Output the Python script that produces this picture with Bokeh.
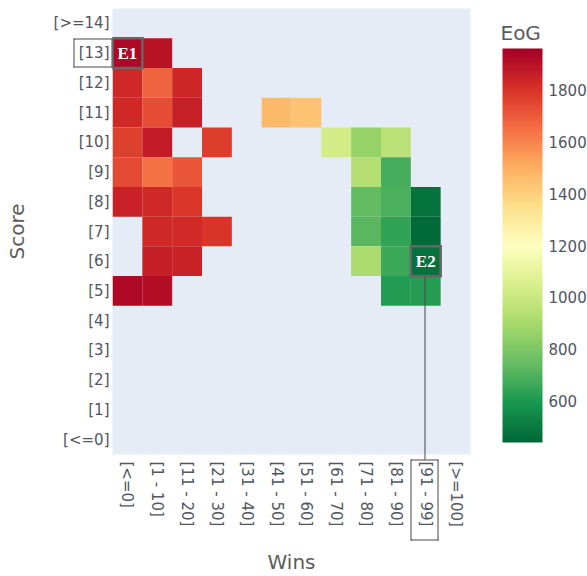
import math

from bokeh.core.properties import value
from bokeh.embed import file_html
from bokeh.models import (Arrow, ColorBar, ColumnDataSource, FixedTicker,
                          LinearColorMapper)
from bokeh.plotting import figure
from bokeh.resources import INLINE

# Axis categories
wins_bins = ["[<=0]", "[1 - 10]", "[11 - 20]", "[21 - 30]", "[31 - 40]",
             "[41 - 50]", "[51 - 60]", "[61 - 70]", "[71 - 80]", "[81 - 90]",
             "[91 - 99]", "[>=100]"]
score_bins = ["[<=0]", "[1]", "[2]", "[3]", "[4]", "[5]", "[6]", "[7]", "[8]",
              "[9]", "[10]", "[11]", "[12]", "[13]", "[>=14]"]

# Filled cells: wins bin, score bin, EoG
cell_wins = [
    "[<=0]", "[1 - 10]",
    "[<=0]", "[1 - 10]", "[11 - 20]",
    "[<=0]", "[1 - 10]", "[11 - 20]", "[41 - 50]", "[51 - 60]",
    "[<=0]", "[1 - 10]", "[21 - 30]", "[61 - 70]", "[71 - 80]", "[81 - 90]",
    "[<=0]", "[1 - 10]", "[11 - 20]", "[71 - 80]", "[81 - 90]",
    "[<=0]", "[1 - 10]", "[11 - 20]", "[71 - 80]", "[81 - 90]", "[91 - 99]",
    "[1 - 10]", "[11 - 20]", "[21 - 30]", "[71 - 80]", "[81 - 90]", "[91 - 99]",
    "[1 - 10]", "[11 - 20]", "[71 - 80]", "[81 - 90]", "[91 - 99]",
    "[<=0]", "[1 - 10]", "[81 - 90]", "[91 - 99]",
]
cell_scores = [
    "[13]", "[13]",
    "[12]", "[12]", "[12]",
    "[11]", "[11]", "[11]", "[11]", "[11]",
    "[10]", "[10]", "[10]", "[10]", "[10]", "[10]",
    "[9]", "[9]", "[9]", "[9]", "[9]",
    "[8]", "[8]", "[8]", "[8]", "[8]", "[8]",
    "[7]", "[7]", "[7]", "[7]", "[7]", "[7]",
    "[6]", "[6]", "[6]", "[6]", "[6]",
    "[5]", "[5]", "[5]", "[5]",
]
cell_eog = [
    1935, 1900,
    1830, 1680, 1840,
    1830, 1730, 1855, 1470, 1440,
    1765, 1870, 1775, 1030, 860, 960,
    1745, 1640, 1715, 940, 680,
    1850, 1830, 1790, 740, 690, 480,
    1830, 1825, 1795, 720, 640, 450,
    1860, 1850, 910, 660, 470,
    1925, 1915, 610, 615,
]

eog_low, eog_high = 440, 1960
eog_ticks = [600, 800, 1000, 1200, 1400, 1600, 1800]

# Highlighted cells
marks = [("E1", "[<=0]", "[13]"), ("E2", "[91 - 99]", "[6]")]

# Red-yellow-green scale, green for low EoG
stops = [(0, 104, 55), (26, 152, 80), (102, 189, 99), (166, 217, 106),
         (217, 239, 139), (255, 255, 191), (254, 224, 139), (253, 174, 97),
         (244, 109, 67), (215, 48, 39), (165, 0, 38)]


def build_palette(n=256):
    out = []
    for i in range(n):
        t = i / (n - 1) * (len(stops) - 1)
        k = min(int(t), len(stops) - 2)
        f = t - k
        a, b = stops[k], stops[k + 1]
        rgb = [round(a[j] + (b[j] - a[j]) * f) for j in range(3)]
        out.append("#%02x%02x%02x" % tuple(rgb))
    return out


xi = {c: i for i, c in enumerate(wins_bins)}
yi = {c: i for i, c in enumerate(score_bins)}

src = ColumnDataSource(dict(
    x=[xi[w] for w in cell_wins],
    y=[yi[s] for s in cell_scores],
    eog=cell_eog,
))

mapper = LinearColorMapper(palette=build_palette(), low=eog_low, high=eog_high)

frame_w, frame_h = 358, 446
cell_w = frame_w / len(wins_bins)
cell_h = frame_h / len(score_bins)

p = figure(
    frame_width=frame_w, frame_height=frame_h,
    x_range=(-0.5, len(wins_bins) - 0.5),
    y_range=(-0.5, len(score_bins) - 0.5),
    output_backend="svg", toolbar_location=None,
    min_border_left=112, min_border_top=8, min_border_bottom=122,
    min_border_right=117,
)
p.background_fill_color = "#e5ecf6"
p.border_fill_color = "white"
p.outline_line_color = None
p.grid.visible = False

p.rect(x="x", y="y", width=1, height=1, source=src,
       fill_color={"field": "eog", "transform": mapper},
       line_color=None)

tick_font = "DejaVu Sans"
tick_color = "#4f5661"
title_color = "#5c5c5c"

p.xaxis.ticker = FixedTicker(ticks=list(range(len(wins_bins))))
p.xaxis.major_label_overrides = {i: c for i, c in enumerate(wins_bins)}
p.xaxis.major_label_orientation = -math.pi / 2
p.yaxis.ticker = FixedTicker(ticks=list(range(len(score_bins))))
p.yaxis.major_label_overrides = {i: c for i, c in enumerate(score_bins)}

for ax in (p.xaxis[0], p.yaxis[0]):
    ax.axis_line_color = None
    ax.major_tick_line_color = None
    ax.minor_tick_line_color = None
    ax.major_tick_out = 0
    ax.major_tick_in = 0
    ax.major_label_text_font = tick_font
    ax.major_label_text_font_size = "15px"
    ax.major_label_text_color = tick_color
    ax.axis_label_text_font = tick_font
    ax.axis_label_text_font_size = "20px"
    ax.axis_label_text_font_style = "normal"
    ax.axis_label_text_color = title_color

p.xaxis.axis_label = "Wins"
p.yaxis.axis_label = "Score"
p.xaxis.major_label_standoff = 7
p.yaxis.major_label_standoff = 3
p.xaxis.axis_label_standoff = 20
p.yaxis.axis_label_standoff = 22

# Colour bar to the right of the heatmap
cbar = ColorBar(
    color_mapper=mapper, ticker=FixedTicker(ticks=eog_ticks),
    width=40, height=394, location=(390, 12),
    margin=0, padding=0,
    major_label_text_font=tick_font, major_label_text_font_size="15px",
    major_label_text_color=tick_color, label_standoff=6,
    major_tick_line_color=None, bar_line_color=None,
    background_fill_color=None, border_line_color=None,
)
p.add_layout(cbar)

# Its title: a horizontal bar is titled above itself, so an invisible one
# carries "EoG" over the scale
p.add_layout(ColorBar(
    color_mapper=mapper, orientation="horizontal",
    ticker=FixedTicker(ticks=[]), width=40, height=1, location=(388, 408),
    margin=0, padding=0, label_standoff=0, scale_alpha=0,
    title="EoG", title_text_font=tick_font, title_text_font_size="20px",
    title_text_font_style="normal", title_text_color=title_color,
    title_standoff=2,
    major_tick_line_color=None, minor_tick_line_color=None,
    major_label_text_font_size="1px", major_label_text_alpha=0,
    bar_line_color=None, background_fill_color=None, border_line_color=None,
))

box_color = "#666666"
strip_color = "#4a4a4a"


def frame_box(x0, x1, y0, y1, width):
    edges = [(x0, y0, x1, y0), (x1, y0, x1, y1),
             (x1, y1, x0, y1), (x0, y1, x0, y0)]
    for xs, ys, xe, ye in edges:
        p.add_layout(Arrow(end=None, x_start=xs, y_start=ys, x_end=xe,
                           y_end=ye, line_color=box_color, line_width=width,
                           line_cap="square"))


def margin_bar(left, bottom, w, h):
    """Solid grey strip in frame pixels (origin at the frame's bottom-left);
    a bare colour bar can sit in the margins around the plot area."""
    p.add_layout(ColorBar(
        color_mapper=LinearColorMapper(palette=[strip_color], low=0, high=1),
        ticker=FixedTicker(ticks=[]), width=max(1, round(w)),
        height=max(1, round(h)), location=(round(left), round(bottom)),
        margin=0, padding=0, label_standoff=0,
        major_tick_line_color=None, minor_tick_line_color=None,
        major_label_text_font_size="1px", major_label_text_alpha=0,
        bar_line_color=None, background_fill_color=None,
        border_line_color=None,
    ))


def margin_box(left, bottom, right, top):
    margin_bar(left, bottom, right - left, 1)
    margin_bar(left, top - 1, right - left, 1)
    margin_bar(left, bottom, 1, top - bottom)
    margin_bar(right - 1, bottom, 1, top - bottom)


# Frames around the highlighted cells, with the cell names
for name, w, s in marks:
    x0, y0 = xi[w], yi[s]
    p.text(x=[x0], y=[y0], text=[name], text_align="center",
           text_baseline="middle", text_color="white",
           text_font=value("Liberation Serif"), text_font_style="bold",
           text_font_size="17px")
    frame_box(x0 - 0.5, x0 + 0.5, y0 - 0.5, y0 + 0.5, 2.5)

# Frame around the [13] score label, left of the E1 cell
e1_row = yi["[13]"]
margin_box(-39, round(e1_row * cell_h), 0, round((e1_row + 1) * cell_h))

# Frame around the [91 - 99] wins label, joined to the E2 cell
e2_col, e2_row = xi["[91 - 99]"], yi["[6]"]
e2_cx = round((e2_col + 0.5) * cell_w) - 1
margin_box(e2_cx - 14, -86, e2_cx + 14, -5)
margin_bar(e2_cx, -5, 1, e2_row * cell_h + 5)

open("out.html", "w").write(file_html(p, INLINE))
